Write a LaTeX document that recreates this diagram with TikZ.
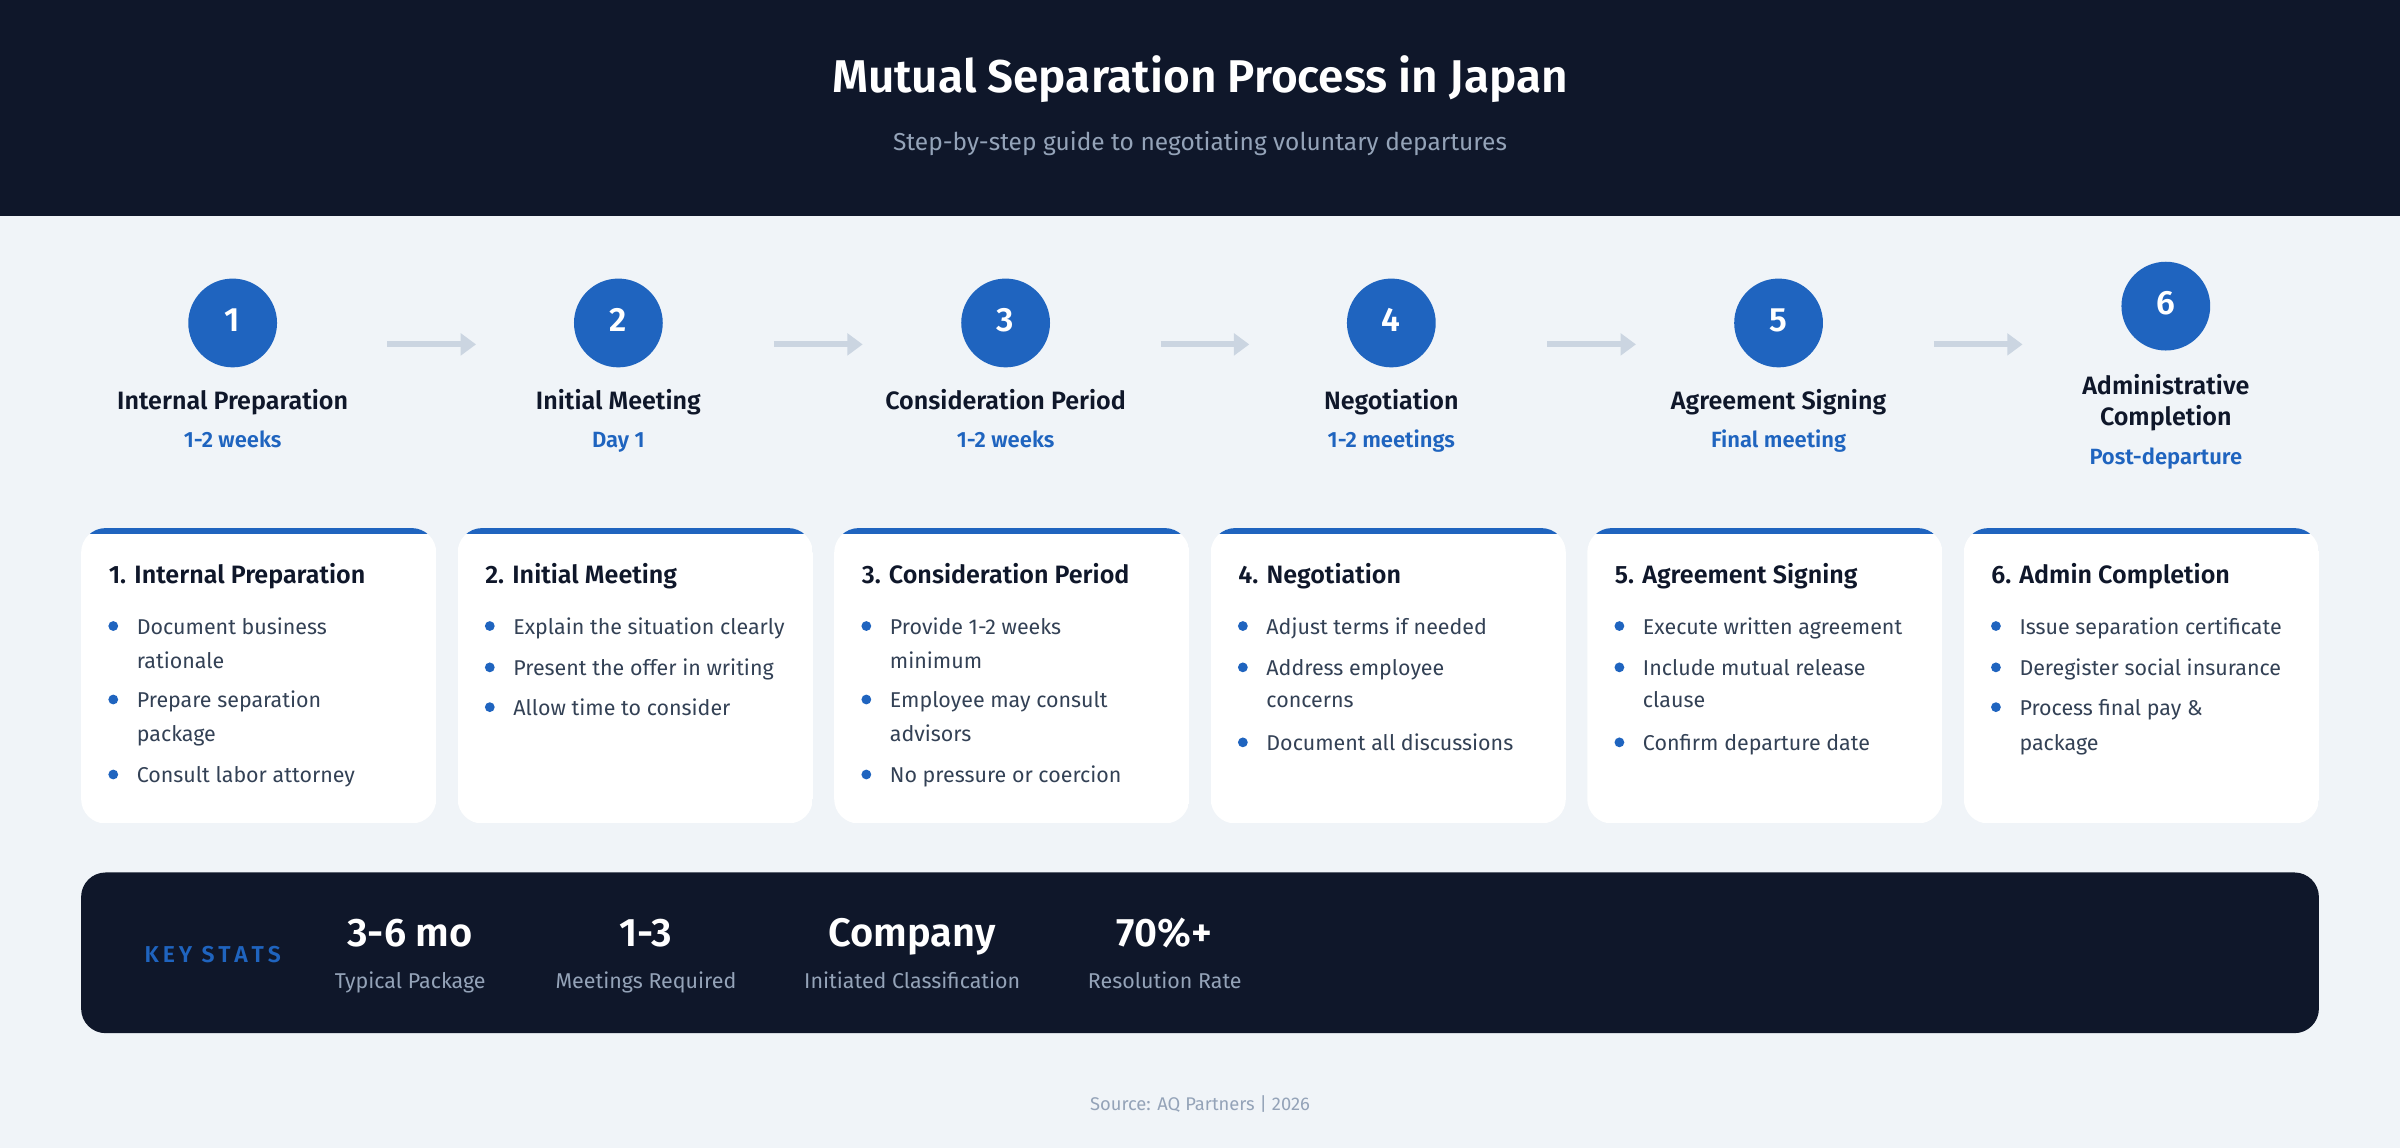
\documentclass[tikz,border=0pt]{standalone}
\usepackage{fontspec}
\setmainfont{Fira Sans}[BoldFont={Fira Sans SemiBold}]
\usetikzlibrary{arrows.meta}
\definecolor{dark}{HTML}{0F172A}
\definecolor{bgc}{HTML}{F0F4F8}
\definecolor{blu}{HTML}{1F64BF}
\definecolor{txt}{HTML}{334155}
\definecolor{gry}{HTML}{94A3B8}
\definecolor{arr}{HTML}{CBD5E1}
\begin{document}
\begin{tikzpicture}[x=0.5pt,y=-0.5pt,
  every node/.style={text height=1.45ex,text depth=.4ex},
  circ/.style={circle,fill=blu,minimum size=29pt,inner sep=0,text=white,font=\bfseries\fontsize{11}{13}\selectfont},
  stitle/.style={font=\bfseries\fontsize{8.2}{10}\selectfont,text=dark,align=center},
  ssub/.style={font=\bfseries\fontsize{7.2}{9}\selectfont,text=blu},
  ctitle/.style={font=\bfseries\fontsize{8.2}{9}\selectfont,text=dark,anchor=west},
  ctext/.style={font=\fontsize{7}{9}\selectfont,text=txt,anchor=west,inner sep=0},
  dot/.style={circle,fill=blu,inner sep=0,minimum size=3.2pt,text height=,text depth=},
  flow/.style={draw=arr,line width=2pt,-{Triangle[length=5pt,width=7pt]}}]
\useasboundingbox (0,0) rectangle (1568,750);
\fill[bgc] (0,0) rectangle (1568,750);
\fill[dark] (0,0) rectangle (1568,141);
\node[font=\bfseries\fontsize{15}{17}\selectfont,text=white] (title) at (784,55) {Mutual Separation Process in Japan};
\node[font=\fontsize{8}{10}\selectfont,text=gry] (subtitle) at (784,93) {Step-by-step guide to negotiating voluntary departures};
% steps
\foreach \i/\x/\cy/\t/\s/\sy in {1/152/211/Internal Preparation/1-2 weeks/287,2/404/211/Initial Meeting/Day 1/287,3/657/211/Consideration Period/1-2 weeks/287,4/909/211/Negotiation/1-2 meetings/287,5/1162/211/Agreement Signing/Final meeting/287}{
  \node[circ] (c\i) at (\x,\cy) {\i};
  \node[stitle] (t\i) at (\x,262) {\t};
  \node[ssub] (s\i) at (\x,\sy) {\s};
}
\node[circ] (c6) at (1415,200) {6};
\node[stitle,text height=,text depth=] (t6) at (1415,263) {Administrative\\Completion};
\node[ssub] (s6) at (1415,298) {Post-departure};
\foreach \a in {1,...,5}{\draw[flow] (253+252.6*\a-252.6,225) -- (311+252.6*\a-252.6,225);}
% cards
\foreach \i/\x/\h in {1/53/1. Internal Preparation,2/299/2. Initial Meeting,3/545/3. Consideration Period,4/791/4. Negotiation,5/1037/5. Agreement Signing,6/1283/6. Admin Completion}{
  \begin{scope}
  \clip[rounded corners=8pt] (\x,345) rectangle (\x+232,538);
  \fill[white] (\x,345) rectangle (\x+232,538);
  \fill[blu] (\x,345) rectangle (\x+232,349);
  \end{scope}
  \node[ctitle] (h\i) at (\x+11,376) {\h};
}
\newcommand\cl[4]{\ifnum#4=1 \node[dot] at (#1+21,#2) {};\fi \node[ctext] at (#1+36,#2) {#3};}
\cl{53}{409}{Document business}{1}\cl{53}{431}{rationale}{0}
\cl{53}{457}{Prepare separation}{1}\cl{53}{479}{package}{0}
\cl{53}{506}{Consult labor attorney}{1}
\cl{299}{409}{Explain the situation clearly}{1}
\cl{299}{436}{Present the offer in writing}{1}
\cl{299}{462}{Allow time to consider}{1}
\cl{545}{409}{Provide 1-2 weeks}{1}\cl{545}{431}{minimum}{0}
\cl{545}{457}{Employee may consult}{1}\cl{545}{479}{advisors}{0}
\cl{545}{506}{No pressure or coercion}{1}
\cl{791}{409}{Adjust terms if needed}{1}
\cl{791}{436}{Address employee}{1}\cl{791}{457}{concerns}{0}
\cl{791}{485}{Document all discussions}{1}
\cl{1037}{409}{Execute written agreement}{1}
\cl{1037}{436}{Include mutual release}{1}\cl{1037}{457}{clause}{0}
\cl{1037}{485}{Confirm departure date}{1}
\cl{1283}{409}{Issue separation certificate}{1}
\cl{1283}{436}{Deregister social insurance}{1}
\cl{1283}{462}{Process final pay \&}{1}\cl{1283}{485}{package}{0}
% stats
\fill[dark,rounded corners=8pt] (53,570) rectangle (1515,675);
\node[font=\bfseries\fontsize{7.5}{9}\selectfont,text=blu] (ks) at (139,623) {K\,E\,Y\,\ S\,T\,A\,T\,S};
\foreach \n/\x/\v/\l in {a/268/3-6 mo/Typical Package,b/422/1-3/Meetings Required,c/596/Company/Initiated Classification,d/761/70\%+/Resolution Rate}{
  \node[font=\bfseries\fontsize{13}{14}\selectfont,text=white] (v\n) at (\x,613) {\v};
  \node[font=\fontsize{7}{9}\selectfont,text=gry] (l\n) at (\x,640) {\l};
}
\node[font=\fontsize{6}{8}\selectfont,text=gry] (src) at (784,720) {Source: AQ Partners | 2026};
\end{tikzpicture}
\end{document}
